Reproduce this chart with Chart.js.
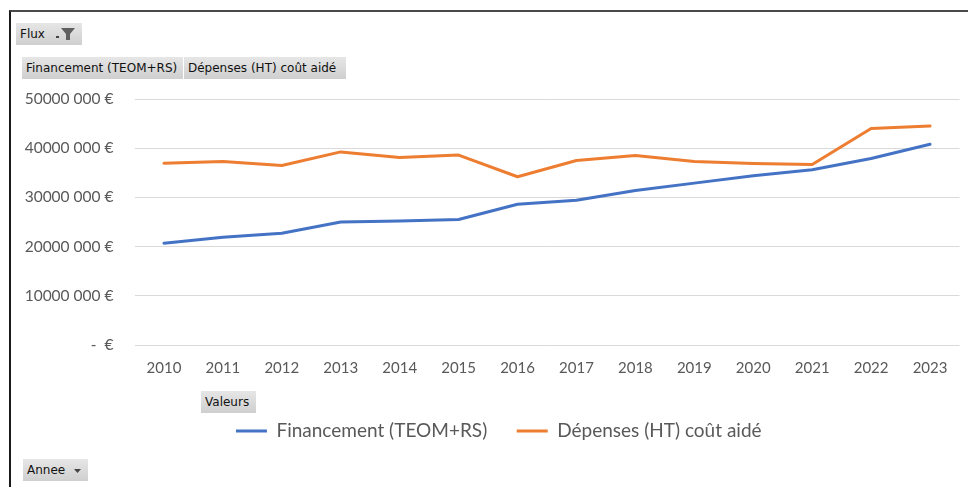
<!DOCTYPE html>
<html>
<head>
<meta charset="utf-8">
<script src="https://cdn.jsdelivr.net/npm/chart.js@4"></script>
<style>
  html, body { margin: 0; padding: 0; background: #fff; }
  #wrap { position: relative; width: 968px; height: 487px; overflow: hidden; }
  #frame { position: absolute; left: 9px; top: 10px; width: 970px; height: 490px;
           border-top: 2px solid #4a4a4a; border-left: 2px solid #1a1a1a; }
  canvas { position: absolute; left: 0; top: 0; }
  .btn { position: absolute; height: 22px; line-height: 22px; box-sizing: border-box;
         font-family: "DejaVu Sans", sans-serif; font-size: 12px; color: #111;
         background: linear-gradient(#e6e6e6, #cfcfcf); padding-left: 4px; white-space: nowrap; }
</style>
</head>
<body>
<div id="wrap">
  <canvas id="chart" width="968" height="487"></canvas>
  <div id="frame"></div>
  <div class="btn" style="left:16px;top:23px;width:66px;">Flux
    <svg width="24" height="14" style="position:absolute;left:38px;top:4px" viewBox="0 0 24 14">
      <rect x="2" y="9" width="3" height="2" fill="#444"/>
      <path d="M7 1 L21 1 L16 7 L16 13 L12 13 L12 7 Z" fill="#5f5f5f"/>
    </svg>
  </div>
  <div class="btn" style="left:22px;top:57px;width:161px;">Financement (TEOM+RS)</div>
  <div class="btn" style="left:184px;top:57px;width:162px;">Dépenses (HT) coût aidé</div>
  <div class="btn" style="left:201px;top:391px;width:55px;">Valeurs</div>
  <div class="btn" style="left:23px;top:459px;width:65px;">Annee
    <svg width="10" height="8" style="position:absolute;left:50px;top:8px" viewBox="0 0 10 8">
      <path d="M1 2 L8 2 L4.5 6 Z" fill="#444"/>
    </svg>
  </div>
</div>
<script>
const annees = ['2010', '2011', '2012', '2013', '2014', '2015', '2016', '2017', '2018', '2019', '2020', '2021', '2022', '2023'];
const financement = [20700000, 21900000, 22700000, 25000000, 25200000, 25500000, 28600000, 29400000, 31400000, 32900000, 34400000, 35600000, 37900000, 40800000];
const depenses = [36950000, 37300000, 36500000, 39250000, 38100000, 38600000, 34200000, 37500000, 38500000, 37300000, 36900000, 36700000, 44000000, 44500000];
const nomsSeries = ['Financement (TEOM+RS)', 'Dépenses (HT) coût aidé'];

const ctx = document.getElementById('chart');

function formatEuro(v) {
  if (v == 0) return '-  €';
  return (v / 1000) + ' 000 €';
}

// decale la legende vers la droite, comme dans Excel
const legendShift = {
  id: 'legendShift',
  afterLayout(chart) {
    chart.legend.left += 19;
    chart.legend.right += 19;
  }
};

new Chart(ctx, {
  type: 'line',
  data: {
    labels: annees,
    datasets: [
      { label: nomsSeries[0], data: financement, borderColor: '#4472C4', backgroundColor: '#4472C4',
        borderWidth: 3, pointRadius: 0, borderCapStyle: 'round', borderJoinStyle: 'round', tension: 0 },
      { label: nomsSeries[1], data: depenses, borderColor: '#ED7D31', backgroundColor: '#ED7D31',
        borderWidth: 3, pointRadius: 0, borderCapStyle: 'round', borderJoinStyle: 'round', tension: 0 }
    ]
  },
  options: {
    responsive: false,
    animation: false,
    layout: { padding: { top: 99, left: 0, right: 8.5, bottom: 36.5 } },
    plugins: {
      legend: {
        position: 'bottom',
        labels: {
          usePointStyle: true,
          pointStyle: 'line',
          pointStyleWidth: 31,
          padding: 29.5,
          color: '#595959',
          font: { family: 'Lato', size: 19 }
        }
      },
      tooltip: { enabled: false }
    },
    scales: {
      x: {
        offset: true,
        grid: { display: false, drawTicks: false },
        border: { display: false },
        ticks: { color: '#595959', font: { family: 'Lato', size: 15 }, padding: 14, maxRotation: 0 },
        afterFit: (scale) => { scale.height = 47; }
      },
      y: {
        min: 0,
        max: 50000000,
        grid: { color: '#d9d9d9', drawTicks: false },
        border: { display: false },
        ticks: {
          stepSize: 10000000,
          color: '#595959',
          font: { family: 'Lato', size: 15.5 },
          padding: 21,
          callback: (v) => formatEuro(v)
        },
        afterFit: (scale) => { scale.width = 134.5; }
      }
    }
  },
  plugins: [legendShift]
});
</script>
</body>
</html>
